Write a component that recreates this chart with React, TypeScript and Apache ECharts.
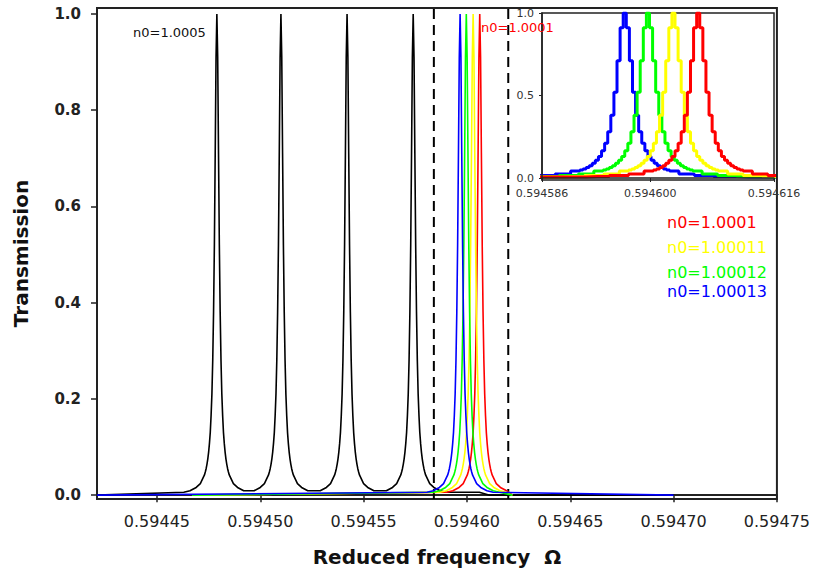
import React, { useEffect, useRef } from "react";
import * as echarts from "echarts";

// Tick values
const xTicks = [0.59445, 0.5945, 0.59455, 0.5946, 0.59465, 0.5947, 0.59475];
const yTicks = [0, 0.2, 0.4, 0.6, 0.8, 1.0];
const insetXTicks = [0.594586, 0.5946, 0.594616];
const insetYTicks = [0, 0.5, 1.0];

// Resonance profile (offset from the peak, in units of 1e-6, and transmission)
const peakOffsets = [0, 0.4, 0.8, 1.2, 1.6, 2.0, 2.4, 2.8, 3.2, 3.6, 4.0, 4.4, 4.8, 5.2, 5.6, 6.0, 8.0, 10.0, 13.0, 16.0];
const peakProfile = [1.0, 0.91, 0.71, 0.52, 0.38, 0.28, 0.21, 0.165, 0.13, 0.107, 0.089, 0.075, 0.064, 0.055, 0.048, 0.042, 0.024, 0.016, 0.009, 0.006];

// Peak positions
const blackCenters = [0.594479, 0.59451, 0.594542, 0.594574];
const redCenters = [0.5946062];
const yellowCenters = [0.594603];
const greenCenters = [0.5945997];
const blueCenters = [0.5945967];

// Extents of each curve
const blackSpan = [0.594421, 0.5947];
const blueSpan = [0.594421, 0.5947];
const colorSpan = [0.594467, 0.594622];
const blackTail = [
  [0.594606, 0.006],
  [0.594611, 0],
];

// Dashed window markers (frequency)
const dashedMarkers = [0.594584, 0.59462];

const seriesLabels = ["n0=1.0001", "n0=1.00011", "n0=1.00012", "n0=1.00013"];
const seriesColors = ["#ff0000", "#ffff00", "#00ff00", "#0000ff"];

const Y_MIN = -0.008;
const Y_MAX = 1.0125;

function buildCurve(centers: number[], span: number[], extra: number[][] = []) {
  const pts: number[][] = [[span[0], 0]];
  centers.forEach((c, i) => {
    const lo = i > 0 ? (centers[i - 1] + c) / 2 : -Infinity;
    const hi = i < centers.length - 1 ? (c + centers[i + 1]) / 2 : Infinity;
    for (let k = peakOffsets.length - 1; k > 0; k--) {
      const x = c - peakOffsets[k] * 1e-6;
      if (x > lo && x > span[0]) pts.push([x, peakProfile[k]]);
    }
    pts.push([c, peakProfile[0]]);
    for (let k = 1; k < peakOffsets.length; k++) {
      const x = c + peakOffsets[k] * 1e-6;
      if (x < hi && x < span[1]) pts.push([x, peakProfile[k]]);
    }
  });
  extra.forEach((p) => pts.push(p));
  pts.push([span[1], 0]);
  return pts;
}

const FONT = "DejaVu Sans";

export default function App() {
  const ref = useRef<HTMLDivElement>(null);
  useEffect(() => {
    if (!ref.current) return;
    const chart = echarts.init(ref.current, null, { renderer: "svg" });

    const blackData = buildCurve(blackCenters, blackSpan, blackTail);
    const colorData = [
      buildCurve(redCenters, colorSpan),
      buildCurve(yellowCenters, colorSpan),
      buildCurve(greenCenters, colorSpan),
      buildCurve(blueCenters, blueSpan),
    ];

    const allSeries: any[] = [];
    dashedMarkers.forEach((x, i) => {
      allSeries.push({
        type: "line",
        name: "marker" + i,
        xAxisIndex: 0,
        yAxisIndex: 0,
        data: [
          [x, Y_MIN],
          [x, Y_MAX],
        ],
        showSymbol: false,
        silent: true,
        lineStyle: { color: "#000", width: 2, type: [10, 6] },
        z: 1,
      });
    });
    allSeries.push({
      type: "line",
      name: "n0=1.0005",
      xAxisIndex: 0,
      yAxisIndex: 0,
      data: blackData,
      showSymbol: false,
      lineStyle: { color: "#000", width: 1.6 },
      z: 2,
    });
    colorData.forEach((d, i) => {
      allSeries.push({
        type: "line",
        name: seriesLabels[i],
        xAxisIndex: 0,
        yAxisIndex: 0,
        data: d,
        showSymbol: false,
        lineStyle: { color: seriesColors[i], width: 1.6 },
        z: 3 + i,
      });
    });
    const insetOrder = [3, 2, 1, 0];
    insetOrder.forEach((i, j) => {
      allSeries.push({
        type: "line",
        name: seriesLabels[i] + " (inset)",
        xAxisIndex: 1,
        yAxisIndex: 1,
        data: colorData[i],
        showSymbol: false,
        step: "middle",
        clip: true,
        lineStyle: { color: seriesColors[i], width: 3 },
        z: 20 + j,
      });
    });

    const legendY = [222, 247, 272, 291];

    chart.setOption({
      animation: false,
      backgroundColor: "#fff",
      grid: [
        { left: 97, top: 8, right: 36, bottom: 82, show: true, borderColor: "#222", borderWidth: 2, z: 0 },
        {
          left: 542,
          top: 13,
          width: 232,
          height: 167,
          show: true,
          backgroundColor: "#fff",
          borderColor: "#222",
          borderWidth: 1.5,
          z: 10,
        },
      ],
      xAxis: [
        {
          type: "value",
          gridIndex: 0,
          min: 0.594421,
          max: 0.59475,
          name: "Reduced frequency  Ω",
          nameLocation: "middle",
          nameGap: 48,
          nameTextStyle: { fontFamily: FONT, fontWeight: "bold", fontSize: 20, color: "#111" },
          axisLine: { lineStyle: { color: "#222", width: 2 } },
          axisTick: { show: true, inside: false, length: 7, customValues: xTicks, lineStyle: { color: "#222", width: 1.5 } },
          axisLabel: {
            customValues: xTicks,
            formatter: (v: number) => v.toFixed(5),
            fontFamily: FONT,
            fontSize: 16,
            color: "#222",
            margin: 14,
          },
          splitLine: { show: false },
        },
        {
          type: "value",
          gridIndex: 1,
          min: 0.594586,
          max: 0.594616,
          axisLine: { lineStyle: { color: "#222", width: 1.5 } },
          axisTick: { show: true, length: 4, customValues: insetXTicks, lineStyle: { color: "#222" } },
          axisLabel: {
            customValues: insetXTicks,
            formatter: (v: number) => v.toFixed(6),
            fontFamily: FONT,
            fontSize: 11,
            color: "#333",
            margin: 8,
          },
          splitLine: { show: false },
          z: 30,
        },
      ],
      yAxis: [
        {
          type: "value",
          gridIndex: 0,
          min: Y_MIN,
          max: Y_MAX,
          name: "Transmission",
          nameLocation: "middle",
          nameGap: 66,
          nameTextStyle: { fontFamily: FONT, fontWeight: "bold", fontSize: 20, color: "#111" },
          axisLine: { lineStyle: { color: "#222", width: 2 } },
          axisTick: { show: true, length: 6, customValues: yTicks, lineStyle: { color: "#222", width: 1.5 } },
          axisLabel: {
            customValues: yTicks,
            formatter: (v: number) => v.toFixed(1),
            fontFamily: FONT,
            fontWeight: "bold",
            fontSize: 15,
            color: "#222",
            margin: 16,
          },
          splitLine: { show: false },
        },
        {
          type: "value",
          gridIndex: 1,
          min: -0.012,
          max: 1.0,
          axisLine: { lineStyle: { color: "#222", width: 1.5 } },
          axisTick: { show: true, length: 3, customValues: insetYTicks, lineStyle: { color: "#222" } },
          axisLabel: {
            customValues: insetYTicks,
            formatter: (v: number) => v.toFixed(1),
            fontFamily: FONT,
            fontSize: 11,
            color: "#333",
            margin: 8,
          },
          splitLine: { show: false },
          z: 30,
        },
      ],
      series: allSeries,
      graphic: [
        {
          type: "text",
          z: 100,
          style: { x: 133, y: 32, text: "n0=1.0005", fill: "#111", font: `13px '${FONT}'`, textVerticalAlign: "middle" },
        },
        {
          type: "text",
          z: 100,
          style: { x: 481, y: 27, text: "n0=1.0001", fill: "#ff0000", font: `13px '${FONT}'`, textVerticalAlign: "middle" },
        },
        ...seriesLabels.map((t, i) => ({
          type: "text",
          z: 100,
          style: {
            x: 667,
            y: legendY[i],
            text: t,
            fill: seriesColors[i],
            font: `16px '${FONT}'`,
            textVerticalAlign: "middle",
          },
        })),
      ],
    });
    return () => chart.dispose();
  }, []);
  return <div ref={ref} style={{ position: "absolute", left: 0, top: 0, width: 813, height: 581 }} />;
}
